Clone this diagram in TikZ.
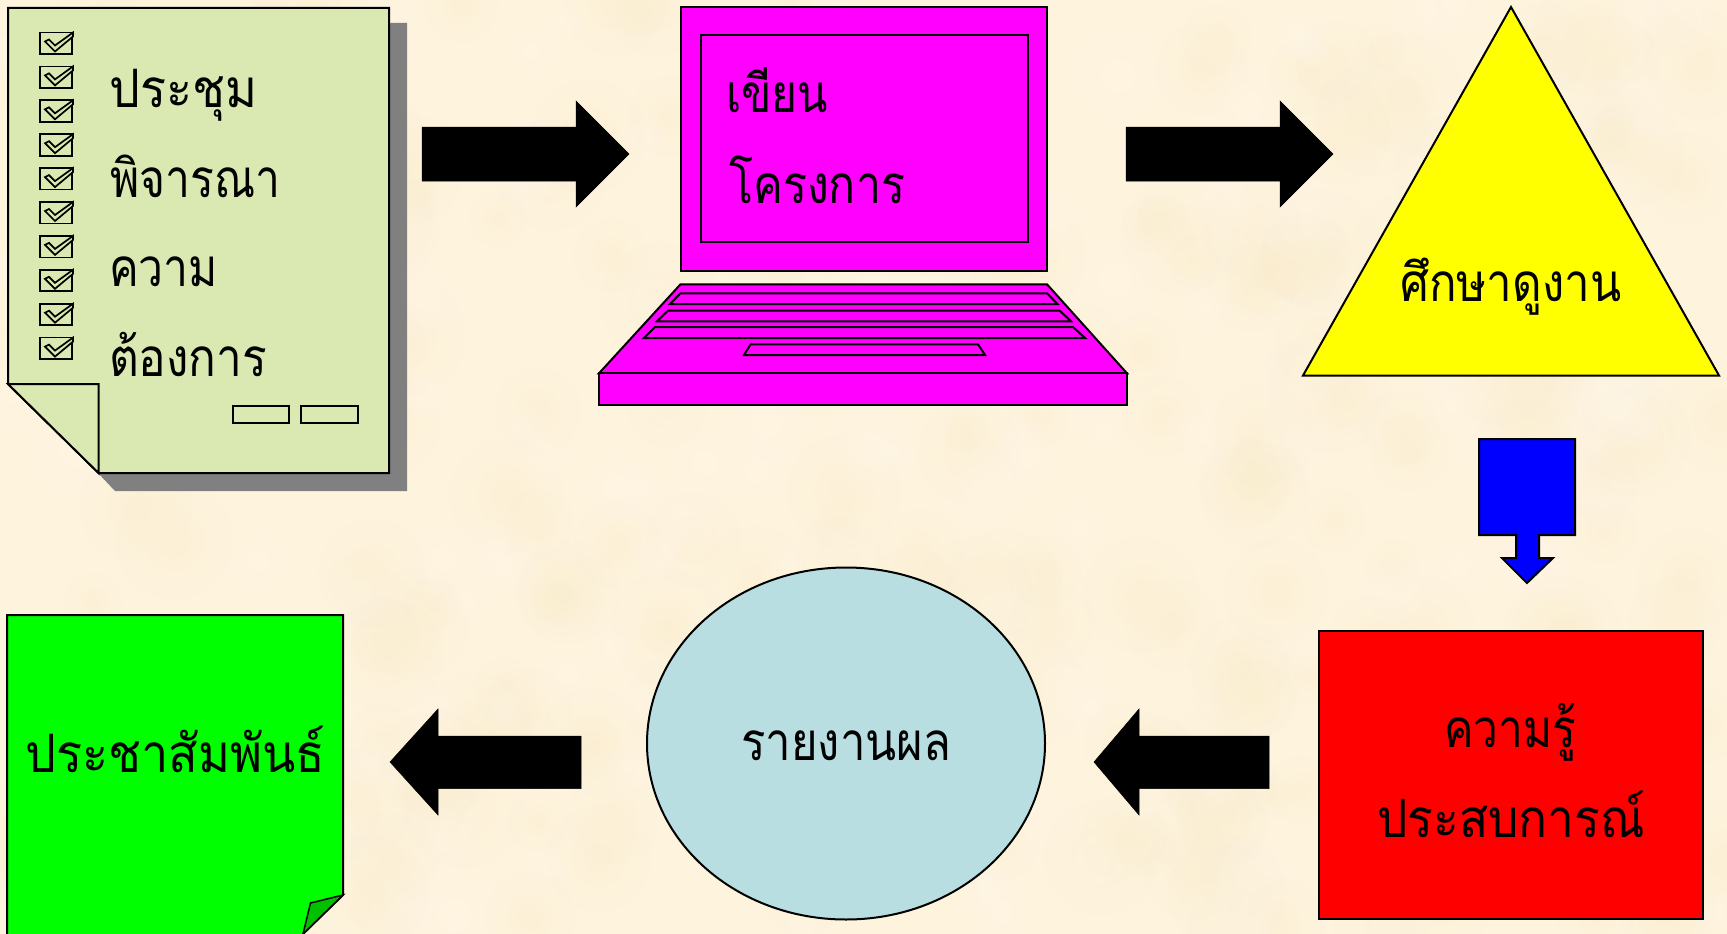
\documentclass[tikz,border=0pt]{standalone}
\usepackage{fontspec}
\usepackage{graphicx}
\usetikzlibrary{fadings}
\newfontfamily\thaifont[Script=Thai]{Loma}
\definecolor{paper}{HTML}{FEF3DD}
\definecolor{mottleA}{HTML}{FAEDCB}
\definecolor{mottleB}{HTML}{FFF7EA}
\definecolor{notegreen}{HTML}{D9E9B1}
\definecolor{paleblue}{HTML}{B8DEE2}
\definecolor{foldgreen}{HTML}{00C000}
\definecolor{puremagenta}{RGB}{255,0,255}
\definecolor{pureyellow}{RGB}{255,255,0}
\definecolor{purered}{RGB}{255,0,0}
\definecolor{pureblue}{RGB}{0,0,255}
\definecolor{puregreen}{RGB}{0,255,0}
\definecolor{midgray}{RGB}{128,128,128}
\tikzfading[name=fuzz, inner color=transparent!65, outer color=transparent!100]
\newcommand{\thtext}[2]{\resizebox{#1pt}{\height}{\thaifont\fontsize{53}{60}\selectfont #2}}
\tikzset{
  shape line/.style={draw=black, line width=2pt, line join=miter},
  block arrow/.style={fill=black, draw=black, line width=0.5pt},
  label/.style={inner sep=0pt, anchor=base west, text=black},
  tick box/.style={draw=black, line width=1.7pt, fill=notegreen},
}
\begin{document}
\begin{tikzpicture}[x=1pt,y=-1pt]
\useasboundingbox (0,0) rectangle (1727,934);
\clip (0,0) rectangle (1727,934);
\fill[paper] (0,0) rectangle (1727,934);
\pgfmathsetseed{4711}
\foreach \i in {1,...,260}{
  \pgfmathsetmacro{\bx}{rnd*1727}
  \pgfmathsetmacro{\by}{rnd*934}
  \pgfmathsetmacro{\br}{22+rnd*40}
  \fill[mottleA, path fading=fuzz] (\bx,\by) circle[radius=\br];
}
\foreach \i in {1,...,180}{
  \pgfmathsetmacro{\bx}{rnd*1727}
  \pgfmathsetmacro{\by}{rnd*934}
  \pgfmathsetmacro{\br}{22+rnd*40}
  \fill[mottleB, path fading=fuzz] (\bx,\by) circle[radius=\br];
}

% note sheet
\fill[midgray] (389,23) -- (407,23) -- (407,491) -- (115,491) -- (98,473) -- (389,473) -- cycle;
\draw[shape line, fill=notegreen] (8,8) -- (389,8) -- (389,473) -- (98.5,473) -- (8,384) -- cycle;
\draw[shape line, fill=notegreen] (8,384) -- (98.5,384) -- (98.5,473) -- cycle;
\foreach \i in {0,...,9}{
  \begin{scope}[shift={(40,{32.5+\i*33.9})}]
    \draw[tick box] (0,0) rectangle (32,21.5);
    \draw[tick box] (5,9) -- (15,19) -- (33,4) -- (33,0) -- (15,13) -- (9,7) -- cycle;
  \end{scope}
}
\draw[shape line, fill=notegreen] (232.5,406) rectangle (289,422.5);
\draw[shape line, fill=notegreen] (301,406) rectangle (358,422.5);
\node[label] (n1) at (109,107) {\thtext{148}{ประชุม}};
\node[label] (n2) at (110,197) {\thtext{170}{พิจารณา}};
\node[label] (n3) at (109,286) {\thtext{109}{ความ}};
\node[label] (n4) at (109,376) {\thtext{158}{ต้องการ}};

% first arrow
\fill[block arrow] (422,127) -- (576,127) -- (576,101) -- (629,154) -- (576,207) -- (576,181) -- (422,181) -- cycle;

% laptop
\draw[shape line, fill=puremagenta] (680.5,7) rectangle (1047,271);
\draw[shape line, fill=puremagenta] (701,35) rectangle (1028,242);
\draw[shape line, fill=puremagenta] (680.5,284.3) -- (1047,284.3) -- (1127,373.3) -- (599,373.3) -- cycle;
\draw[shape line, fill=puremagenta] (599,373.3) rectangle (1127,404.7);
\draw[shape line, fill=puremagenta] (680.5,293.3) -- (1047,293.3) -- (1057.5,304) -- (670,304) -- cycle;
\draw[shape line, fill=puremagenta] (668,310.7) -- (1059.7,310.7) -- (1071,321.3) -- (657,321.3) -- cycle;
\draw[shape line, fill=puremagenta] (655,327) -- (1073,327) -- (1085,338) -- (644,338) -- cycle;
\draw[shape line, fill=puremagenta] (750.6,344.3) -- (978,344.3) -- (985,355) -- (744,355) -- cycle;
\node[label] (n5) at (726,113) {\thtext{102}{เขียน}};
\node[label] (n6) at (729,203) {\thtext{176}{โครงการ}};

% second arrow
\fill[block arrow] (1126,127) -- (1280,127) -- (1280,101) -- (1333,154) -- (1280,207) -- (1280,181) -- (1126,181) -- cycle;

% triangle
\draw[shape line, fill=pureyellow] (1511,7) -- (1719,375.5) -- (1303,375.5) -- cycle;
\node[label] (n7) at (1400,301) {\thtext{221}{ศึกษาดูงาน}};

% down callout
\draw[shape line, fill=pureblue] (1479,439) -- (1575,439) -- (1575,535) -- (1539,535) -- (1539,558) -- (1553,558) -- (1527,583) -- (1502,558) -- (1516,558) -- (1516,535) -- (1479,535) -- cycle;

% red box
\draw[shape line, fill=purered] (1319,631) rectangle (1703,919);
\node[label] (n8) at (1444,747) {\thtext{132}{ความรู้}};
\node[label] (n9) at (1377,837) {\thtext{268}{ประสบการณ์}};

% arrow to ellipse
\fill[block arrow] (1269,736) -- (1139,736) -- (1139,709) -- (1094,762) -- (1139,815) -- (1139,788.5) -- (1269,788.5) -- cycle;

% ellipse
\draw[shape line, fill=paleblue] (846,743.5) ellipse[x radius=199, y radius=176];
\node[label] (n10) at (741,760) {\thtext{210}{รายงานผล}};

% arrow to sheet
\fill[block arrow] (581,736) -- (438,736) -- (438,709) -- (390,762) -- (438,815) -- (438,788.5) -- (581,788.5) -- cycle;

% green sheet
\draw[shape line, fill=puregreen] (7,615) -- (343,615) -- (343,895) -- (303,934) -- (303,950) -- (7,950) -- cycle;
\draw[shape line, line width=1.5pt, fill=foldgreen] (343,895) -- (310.5,903) -- (303,934) -- cycle;
\node[label] (n11) at (25,772) {\thtext{300}{ประชาสัมพันธ์}};
\end{tikzpicture}
\end{document}
